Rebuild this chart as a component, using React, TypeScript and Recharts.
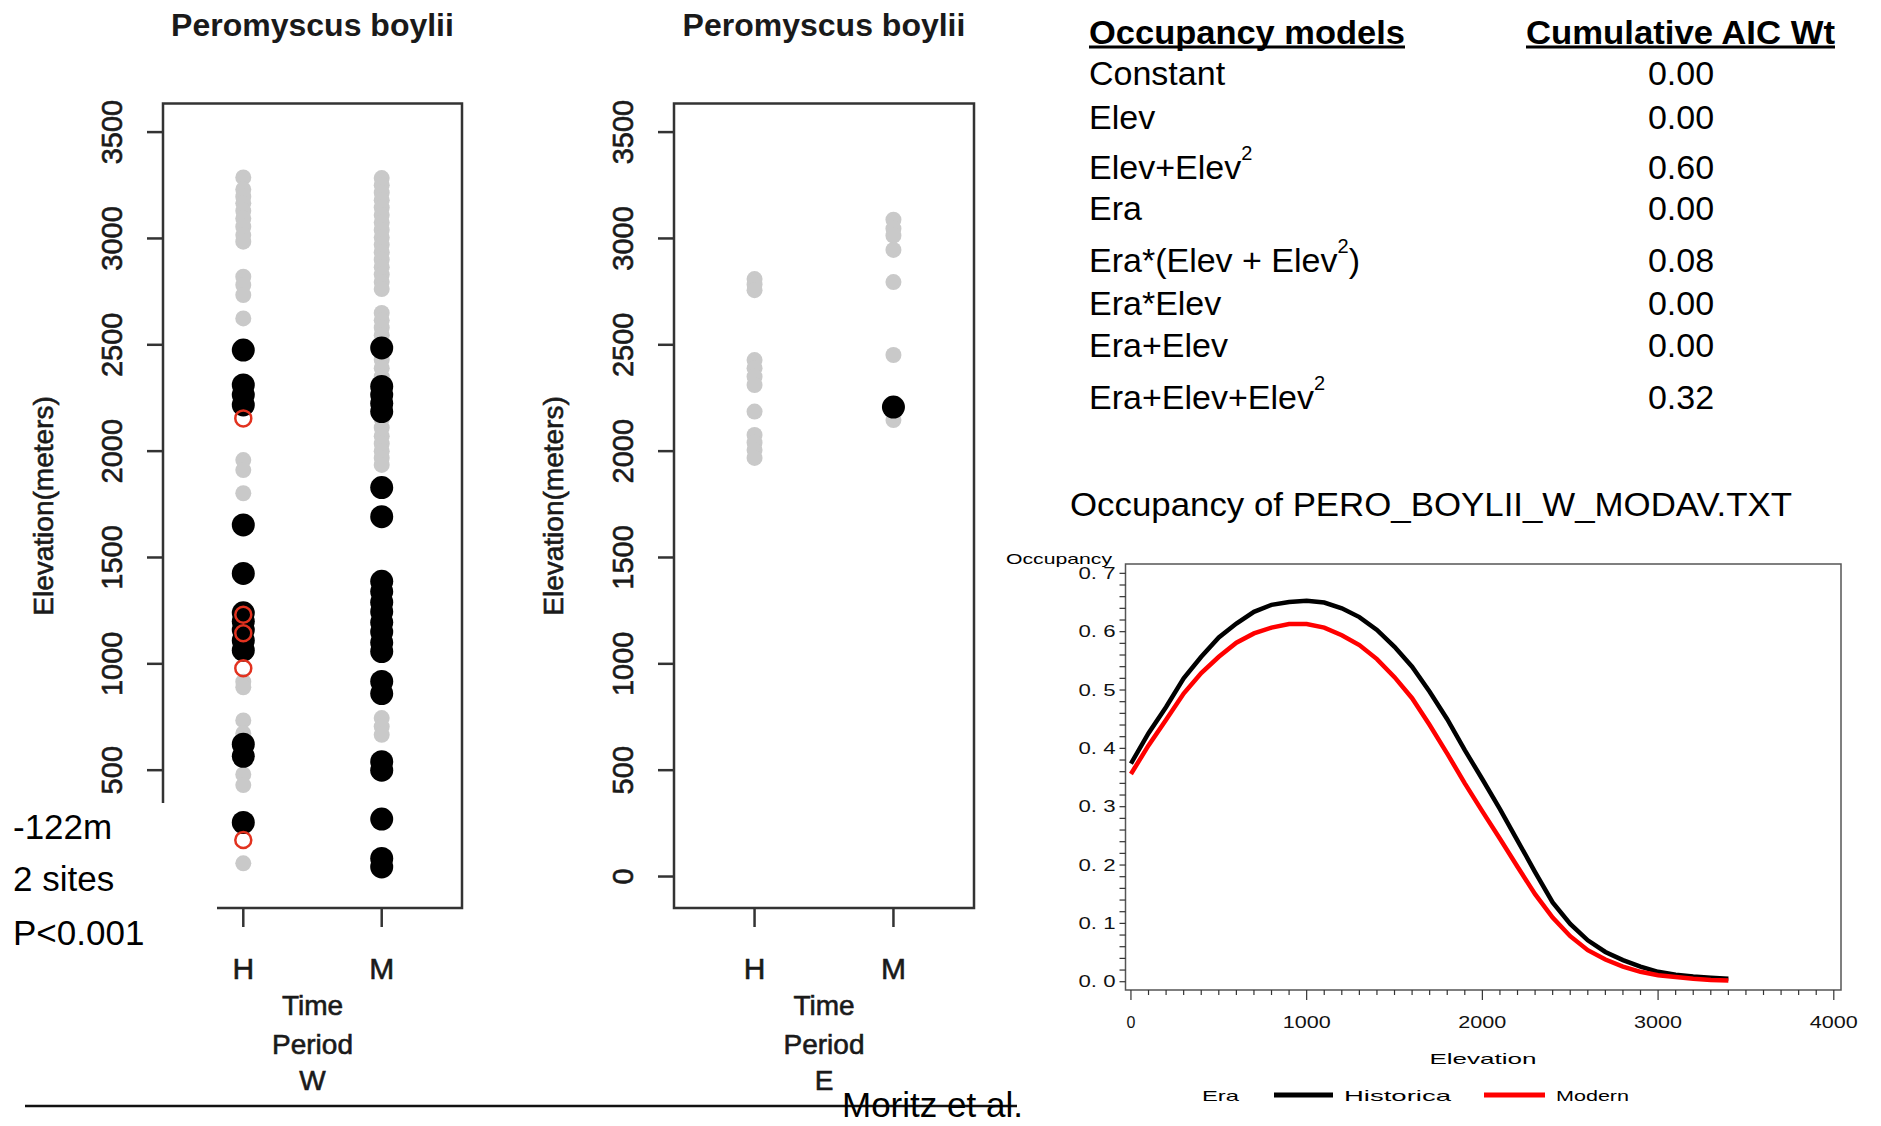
import React from 'react';
import { ScatterChart, Scatter, LineChart, Line, XAxis, YAxis, ReferenceArea } from 'recharts';

// site elevations (m), West transect: H = historic, M = modern
const westHistGrey = [3287, 3230, 3196, 3165, 3130, 3094, 3055, 3016, 2985, 2820, 2781, 2734, 2624, 1958, 1911, 1802, 916, 890, 734, 673, 480, 430, 62];
const westHistBlack = [2475, 2311, 2265, 2217, 1653, 1425, 1240, 1200, 1160, 1110, 1064, 622, 565, 254];
const westHistRed = [2154, 1231, 1144, 979, 172];
const westModGrey = [3284, 3250, 3215, 3180, 3145, 3110, 3075, 3040, 3005, 2970, 2935, 2900, 2865, 2830, 2795, 2762, 2650, 2615, 2580, 2545, 2510, 2470, 2430, 2390, 2350, 2250, 2150, 2110, 2070, 2035, 2000, 1968, 1935, 745, 705, 666];
const westModBlack = [2485, 2304, 2265, 2225, 2186, 1829, 1692, 1388, 1340, 1290, 1245, 1195, 1150, 1100, 1058, 917, 860, 540, 500, 270, 85, 45];

// East transect
const eastHistGrey = [2809, 2783, 2757, 2428, 2390, 2350, 2311, 2186, 2076, 2040, 2005, 1968];
const eastModGrey = [3088, 3046, 3013, 2946, 2795, 2452, 2146];
const eastModBlack = [2207];

const periods = ['H', 'M'];
const elevationTicks = [0, 500, 1000, 1500, 2000, 2500, 3000, 3500];

// model-averaged occupancy by elevation
const curveElevation = [0, 100, 200, 300, 400, 500, 600, 700, 800, 900, 1000, 1100, 1200, 1300, 1400, 1500, 1600, 1700, 1800, 1900, 2000, 2100, 2200, 2300, 2400, 2500, 2600, 2700, 2800, 2900, 3000, 3100, 3200, 3300, 3400];
const historicOcc = [0.374, 0.426, 0.471, 0.520, 0.557, 0.590, 0.614, 0.634, 0.646, 0.651, 0.653, 0.650, 0.640, 0.625, 0.603, 0.574, 0.540, 0.497, 0.450, 0.397, 0.347, 0.296, 0.242, 0.188, 0.136, 0.099, 0.071, 0.051, 0.037, 0.026, 0.017, 0.012, 0.009, 0.007, 0.005];
const modernOcc = [0.356, 0.405, 0.449, 0.494, 0.529, 0.557, 0.581, 0.597, 0.607, 0.613, 0.613, 0.607, 0.594, 0.577, 0.553, 0.522, 0.486, 0.440, 0.391, 0.340, 0.292, 0.245, 0.197, 0.150, 0.110, 0.078, 0.054, 0.038, 0.026, 0.017, 0.011, 0.008, 0.005, 0.003, 0.002];
const eraNames = ['Historica', 'Modern'];
const eraColors = ['#000000', '#ff0000'];
const occMajorTicks = [0, 0.1, 0.2, 0.3, 0.4, 0.5, 0.6, 0.7];
const elevMajorTicks = [0, 1000, 2000, 3000, 4000];

const modelNames = ['Constant', 'Elev', 'Elev+Elev^2', 'Era', 'Era*(Elev + Elev^2)', 'Era*Elev', 'Era+Elev', 'Era+Elev+Elev^2'];
const aicWeights = ['0.00', '0.00', '0.60', '0.00', '0.08', '0.00', '0.00', '0.32'];
const rowCenters = [73, 117, 167, 208, 260, 303, 345, 397];

const FONT = "'Liberation Sans', Arial, Helvetica, sans-serif";
const INK = '#1a1a1a';
const ELEV_DOMAIN: [number, number] = [-148, 3634];
const PERIOD_DOMAIN: [number, number] = [0.42, 2.58];
const OCC_DOMAIN: [number, number] = [-0.0142, 0.716];
const CURVE_X_DOMAIN: [number, number] = [-31, 4041];

type Pt = { x: number; y: number };

const toPoints = (hist: number[], mod: number[]): Pt[] => [
  ...hist.map((y) => ({ x: 1, y })),
  ...mod.map((y) => ({ x: 2, y })),
];

const greyDot = (p: any) => <circle cx={p.cx} cy={p.cy} r={8} fill="#c9c9c9" />;
const blackDot = (p: any) => <circle cx={p.cx} cy={p.cy} r={11.5} fill="#000" />;
const redRing = (p: any) => (
  <circle cx={p.cx} cy={p.cy} r={8} fill="none" stroke="#e2321f" strokeWidth={2.5} />
);

// R labels look a little heavier than a plain regular face
const heavy = { stroke: INK, strokeWidth: 0.6 };

const PeriodTick = (p: any) => (
  <text x={p.x} y={p.y + 39} textAnchor="middle" dominantBaseline="central" fontSize={30} fill={INK} fontFamily={FONT} {...heavy}>
    {periods[p.payload.value - 1]}
  </text>
);

const ElevTick = (p: any) => {
  const cx = p.x - 33;
  return (
    <text
      x={cx}
      y={p.y}
      transform={`rotate(-90, ${cx}, ${p.y})`}
      textAnchor="middle"
      dominantBaseline="central"
      fontSize={29}
      fill={INK}
      fontFamily={FONT}
      {...heavy}
    >
      {p.payload.value}
    </text>
  );
};

interface PanelProps {
  left: number;
  rightMargin: number;
  grey: Pt[];
  black: Pt[];
  red: Pt[];
}

function ElevationPanel({ left, rightMargin, grey, black, red }: PanelProps) {
  const axisStroke = { stroke: '#333', strokeWidth: 2.5 };
  return (
    <div style={{ position: 'absolute', left, top: 0 }}>
      <ScatterChart width={500} height={1126} margin={{ top: 103.6, right: rightMargin, bottom: 0, left: 0 }}>
        <XAxis
          type="number"
          dataKey="x"
          domain={PERIOD_DOMAIN}
          allowDataOverflow
          ticks={[1, 2]}
          interval={0}
          height={218}
          tickSize={19}
          tickMargin={2}
          axisLine={false}
          tickLine={axisStroke}
          tick={PeriodTick}
        />
        <YAxis
          type="number"
          dataKey="y"
          domain={ELEV_DOMAIN}
          allowDataOverflow
          ticks={elevationTicks}
          interval={0}
          width={163}
          tickSize={16}
          tickMargin={2}
          axisLine={false}
          tickLine={axisStroke}
          tick={ElevTick}
        />
        <ReferenceArea
          x1={PERIOD_DOMAIN[0]}
          x2={PERIOD_DOMAIN[1]}
          y1={ELEV_DOMAIN[0]}
          y2={ELEV_DOMAIN[1]}
          fill="none"
          fillOpacity={0}
          stroke="#333"
          strokeWidth={2.5}
          ifOverflow="visible"
        />
        <Scatter data={grey} shape={greyDot} isAnimationActive={false} />
        <Scatter data={black} shape={blackDot} isAnimationActive={false} />
        {red.length > 0 && <Scatter data={red} shape={redRing} isAnimationActive={false} />}
      </ScatterChart>
    </div>
  );
}

const SasYTick = (p: any) => {
  const v = p.payload.value;
  const major = occMajorTicks.some((t) => Math.abs(t - v) < 1e-6);
  return (
    <g>
      <line x1={p.x - 6} x2={p.x} y1={p.y} y2={p.y} stroke="#333" strokeWidth={1.2} />
      {major && (
        <text
          x={p.x - 10}
          y={p.y}
          textAnchor="end"
          dominantBaseline="central"
          fontSize={16}
          textLength={37}
          lengthAdjust="spacingAndGlyphs"
          fill="#111"
          fontFamily={FONT}
        >
          {v.toFixed(1).replace('.', '. ')}
        </text>
      )}
    </g>
  );
};

const SasXTick = (p: any) => {
  const v = p.payload.value;
  const major = elevMajorTicks.includes(v);
  return (
    <g>
      <line x1={p.x} x2={p.x} y1={p.y} y2={p.y + (major ? 10 : 5)} stroke="#333" strokeWidth={1.2} />
      {major && (
        <text
          x={p.x}
          y={p.y + 32}
          textAnchor="middle"
          dominantBaseline="central"
          fontSize={16}
          textLength={v ? 48 : undefined}
          lengthAdjust="spacingAndGlyphs"
          fill="#111"
          fontFamily={FONT}
        >
          {v}
        </text>
      )}
    </g>
  );
};

function OccupancyChart() {
  const data = curveElevation.map((e, i) => ({ elev: e, hist: historicOcc[i], modern: modernOcc[i] }));
  const yTicks = Array.from({ length: 36 }, (_, i) => +(i * 0.02).toFixed(2));
  const xTicks = Array.from({ length: 41 }, (_, i) => i * 100);
  return (
    <div style={{ position: 'absolute', left: 1000, top: 540 }}>
      <LineChart width={881} height={560} data={data} margin={{ top: 24, right: 40, bottom: 0, left: 0 }}>
        <XAxis
          type="number"
          dataKey="elev"
          domain={CURVE_X_DOMAIN}
          allowDataOverflow
          ticks={xTicks}
          interval={0}
          height={110}
          tickSize={0}
          tickMargin={0}
          axisLine={false}
          tickLine={false}
          tick={SasXTick}
        />
        <YAxis
          type="number"
          domain={OCC_DOMAIN}
          allowDataOverflow
          ticks={yTicks}
          interval={0}
          width={125.5}
          tickSize={0}
          tickMargin={0}
          axisLine={false}
          tickLine={false}
          tick={SasYTick}
        />
        <ReferenceArea
          x1={CURVE_X_DOMAIN[0]}
          x2={CURVE_X_DOMAIN[1]}
          y1={OCC_DOMAIN[0]}
          y2={OCC_DOMAIN[1]}
          fill="none"
          fillOpacity={0}
          stroke="#555"
          strokeWidth={1.5}
          ifOverflow="visible"
        />
        <Line type="linear" dataKey="hist" name={eraNames[0]} stroke={eraColors[0]} strokeWidth={4.5} dot={false} activeDot={false} isAnimationActive={false} />
        <Line type="linear" dataKey="modern" name={eraNames[1]} stroke={eraColors[1]} strokeWidth={4.5} dot={false} activeDot={false} isAnimationActive={false} />
      </LineChart>
    </div>
  );
}

function ModelLabel({ text, y }: { text: string; y: number }) {
  const parts = text.split('^2');
  return (
    <text x={1089} y={y} dominantBaseline="central" fontSize={34} fill="#000">
      {parts.map((part, i) => (
        <React.Fragment key={i}>
          <tspan dy={i > 0 ? 14 : 0}>{part}</tspan>
          {i < parts.length - 1 && (
            <tspan dy={-14} fontSize={20}>
              2
            </tspan>
          )}
        </React.Fragment>
      ))}
    </text>
  );
}

function Annotations() {
  const axisTitle = (cx: number, letter: string) => (
    <g fontSize={28} fill={INK} textAnchor="middle" dominantBaseline="central" {...heavy}>
      <text x={cx} y={1005}>Time</text>
      <text x={cx} y={1044}>Period</text>
      <text x={cx} y={1080}>{letter}</text>
    </g>
  );
  return (
    <svg width={1881} height={1126} style={{ position: 'absolute', left: 0, top: 0 }} fontFamily={FONT}>
      {/* panel titles */}
      <text x={312.5} y={25} textAnchor="middle" dominantBaseline="central" fontSize={32} fontWeight="bold" fill={INK}>
        Peromyscus boylii
      </text>
      <text x={824} y={25} textAnchor="middle" dominantBaseline="central" fontSize={32} fontWeight="bold" fill={INK}>
        Peromyscus boylii
      </text>
      <text transform="translate(43,506) rotate(-90)" textAnchor="middle" dominantBaseline="central" fontSize={28} fill={INK} {...heavy}>
        Elevation(meters)
      </text>
      <text transform="translate(553,506) rotate(-90)" textAnchor="middle" dominantBaseline="central" fontSize={28} fill={INK} {...heavy}>
        Elevation(meters)
      </text>
      {axisTitle(312.5, 'W')}
      {axisTitle(824, 'E')}

      {/* shift note over the left panel */}
      <rect x={0} y={803} width={217} height={155} fill="#fff" />
      <g fontSize={35} fill="#000" dominantBaseline="central">
        <text x={13} y={826}>-122m</text>
        <text x={13} y={878}>2 sites</text>
        <text x={13} y={932}>P&lt;0.001</text>
      </g>

      <line x1={25} x2={1017} y1={1106} y2={1106} stroke="#111" strokeWidth={2.5} />
      <text x={842} y={1104} dominantBaseline="central" fontSize={35} fill="#000">
        Moritz et al.
      </text>

      {/* model table */}
      <text x={1089} y={32} dominantBaseline="central" fontSize={33} fontWeight="bold" textLength={316} lengthAdjust="spacingAndGlyphs">
        Occupancy models
      </text>
      <rect x={1089} y={45.5} width={316} height={3} fill="#000" />
      <text x={1526} y={32} dominantBaseline="central" fontSize={33} fontWeight="bold" textLength={309} lengthAdjust="spacingAndGlyphs">
        Cumulative AIC Wt
      </text>
      <rect x={1526} y={45.5} width={309} height={3} fill="#000" />
      {modelNames.map((m, i) => (
        <ModelLabel key={m} text={m} y={rowCenters[i]} />
      ))}
      {aicWeights.map((w, i) => (
        <text key={i} x={1681} y={rowCenters[i]} textAnchor="middle" dominantBaseline="central" fontSize={34}>
          {w}
        </text>
      ))}

      {/* occupancy plot texts */}
      <text x={1431} y={504} textAnchor="middle" dominantBaseline="central" fontSize={34} textLength={722} lengthAdjust="spacingAndGlyphs">
        Occupancy of PERO_BOYLII_W_MODAV.TXT
      </text>
      <text x={1006} y={558} dominantBaseline="central" fontSize={15} textLength={106} lengthAdjust="spacingAndGlyphs">
        Occupancy
      </text>
      <text x={1483} y={1058} textAnchor="middle" dominantBaseline="central" fontSize={15} textLength={107} lengthAdjust="spacingAndGlyphs">
        Elevation
      </text>
      <g fontSize={15} dominantBaseline="central">
        <text x={1202} y={1095} textLength={37} lengthAdjust="spacingAndGlyphs">Era</text>
        <line x1={1274} x2={1333} y1={1095} y2={1095} stroke={eraColors[0]} strokeWidth={5} />
        <text x={1344} y={1095} textLength={107} lengthAdjust="spacingAndGlyphs">{eraNames[0]}</text>
        <line x1={1484} x2={1545} y1={1095} y2={1095} stroke={eraColors[1]} strokeWidth={5} />
        <text x={1556} y={1095} textLength={73} lengthAdjust="spacingAndGlyphs">{eraNames[1]}</text>
      </g>
    </svg>
  );
}

export default function App() {
  return (
    <div style={{ position: 'absolute', left: 0, top: 0, width: 1881, height: 1126, background: '#fff', overflow: 'hidden', fontFamily: FONT }}>
      <ElevationPanel
        left={0}
        rightMargin={38}
        grey={toPoints(westHistGrey, westModGrey)}
        black={toPoints(westHistBlack, westModBlack)}
        red={toPoints(westHistRed, [])}
      />
      <ElevationPanel
        left={511}
        rightMargin={37}
        grey={toPoints(eastHistGrey, eastModGrey)}
        black={toPoints([], eastModBlack)}
        red={[]}
      />
      <OccupancyChart />
      <Annotations />
    </div>
  );
}
